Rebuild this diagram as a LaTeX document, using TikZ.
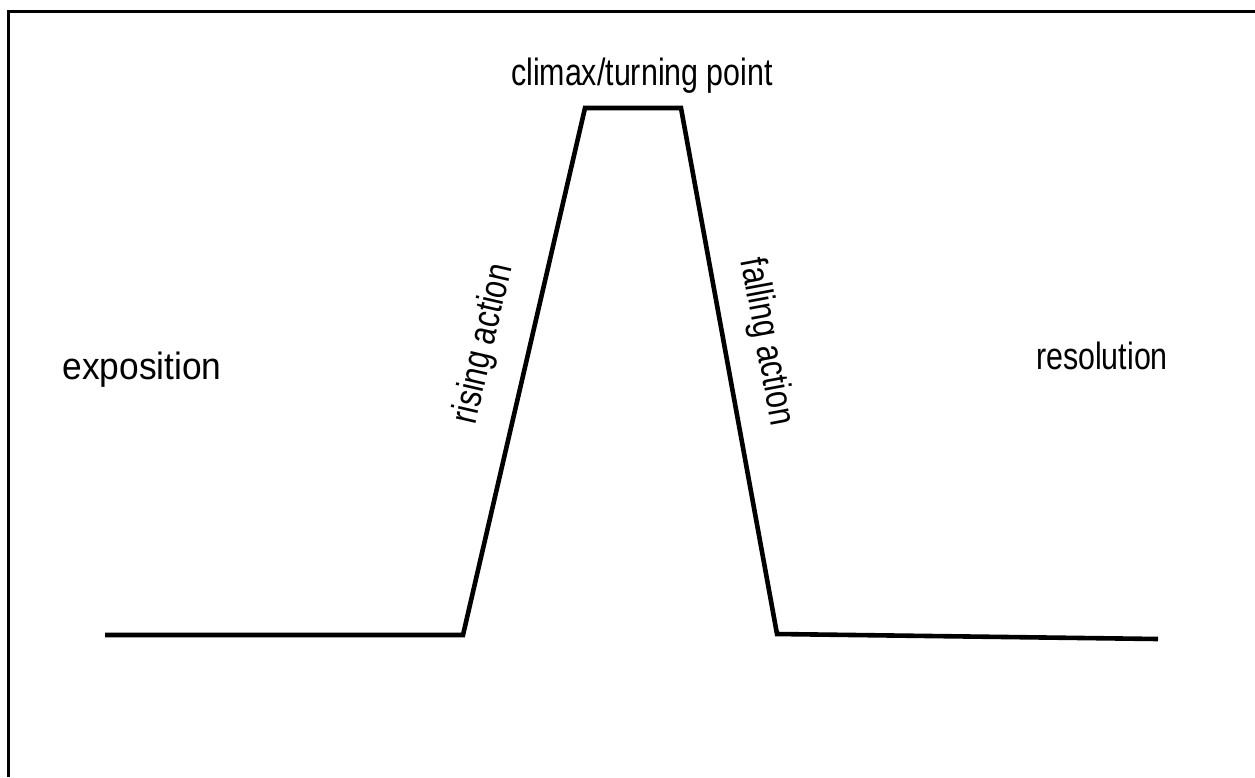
\documentclass[tikz,border=0pt]{standalone}
\usepackage{fontspec}
\setmainfont{Liberation Sans}
\newfontfamily\condfont[FakeStretch=0.8]{Liberation Sans}
\newfontfamily\semicondfont[FakeStretch=0.93]{Liberation Sans}
\begin{document}
\begin{tikzpicture}[x=1pt,y=-1pt,
  plot/.style={line width=4.6pt,line join=miter},
  frame/.style={line width=3pt},
  lbl/.style={inner sep=0pt,font=\condfont\fontsize{38}{44}\selectfont},
  wlbl/.style={inner sep=0pt,font=\semicondfont\fontsize{38}{44}\selectfont}]
\useasboundingbox (0,0) rectangle (1255,777);
\draw[frame] (8,777) -- (8,11) -- (1255,11);
\coordinate (s) at (105,635);
\coordinate (r0) at (463,635);
\coordinate (c0) at (585,108);
\coordinate (c1) at (681,108);
\coordinate (f1) at (777,634);
\coordinate (e) at (1158,639);
\draw[plot] (s) -- (r0) -- (c0) -- (c1) -- (f1) -- (e);
\node[lbl,anchor=base] (climax) at (642,85) {climax/turning point};
\node[wlbl,anchor=base] (expo) at (142,379) {exposition};
\node[lbl,anchor=base] (reso) at (1102,369) {resolution};
\node[lbl,rotate=77] (rising) at (484,344) {rising action};
\node[lbl,rotate=-79.5] (falling) at (766,342) {falling action};
\end{tikzpicture}
\end{document}
